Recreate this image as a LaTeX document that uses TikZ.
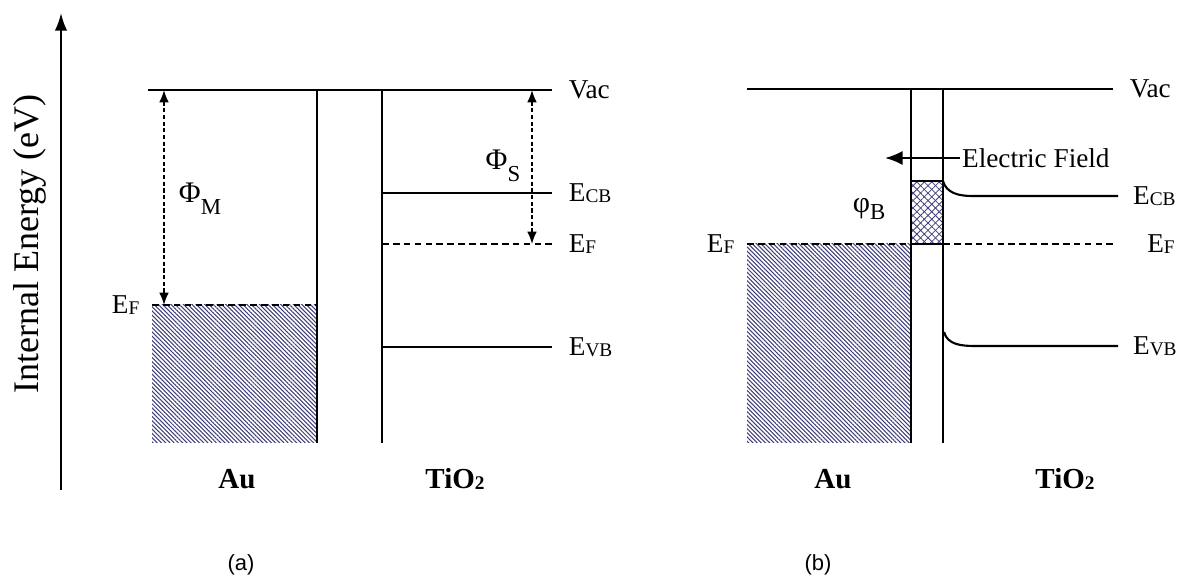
\documentclass[tikz,border=0pt]{standalone}
\usepackage{fontspec}
\setmainfont{Liberation Serif}
\newfontfamily\capfont{Liberation Sans}
\usetikzlibrary{arrows.meta,patterns.meta}
\definecolor{metal}{RGB}{62,62,120}
\newcommand\lowsub[1]{\raisebox{-0.6pt}{\fontsize{11}{10}\selectfont #1}}
\newcommand\dropsub[2][7pt]{\raisebox{-#1}{\fontsize{13}{13}\selectfont #2}}
\tikzset{
  band/.style={line width=1.2pt},
  wall/.style={line width=1pt},
  fermi/.style={line width=1.1pt, dash pattern=on 3.8pt off 2.4pt},
  gap/.style={line width=0.9pt, dash pattern=on 2.4pt off 1.4pt,
    {Latex[length=7pt,width=5.5pt]}-{Latex[length=7pt,width=5.5pt]}},
  metalfill/.style={pattern={Lines[angle=-45,distance=1.7pt,line width=0.6pt]}, pattern color=metal},
  barrierfill/.style={pattern={Lines[angle=45,distance=3pt,line width=0.45pt]}, pattern color=metal,
    postaction={pattern={Lines[angle=-45,distance=3pt,line width=0.45pt]}, pattern color=metal}},
  lbl/.style={font=\fontsize{15.5}{18}\selectfont, inner sep=0pt},
  lvl/.style={lbl, anchor=west, xshift=9pt},
  sym/.style={font=\fontsize{17}{18}\selectfont, inner sep=0pt},
  mat/.style={font=\fontsize{16.5}{18}\selectfont\bfseries, inner sep=0pt},
  panelcap/.style={font=\capfont\fontsize{12.5}{14}\selectfont, inner sep=0pt},
}
\begin{document}
\begin{tikzpicture}[x=0.02cm, y=-0.02cm]
  \useasboundingbox (0,0) rectangle (1180,577);

  % energy axis
  \coordinate (axbot) at (61,490);
  \coordinate (axtop) at (61,13);
  \draw[line width=1.2pt, -{Latex[length=10pt,width=7pt]}] (axbot) -- (axtop);
  \node[font=\fontsize{20.5}{24}\selectfont, rotate=90] (energy) at (30,244) {Internal Energy (eV)};

  % (a) separated
  \coordinate (vacA1) at (148,90);  \coordinate (vacA2) at (552,90);
  \coordinate (wlA1) at (317,90);   \coordinate (wlA2) at (317,443);
  \coordinate (wrA1) at (382,90);   \coordinate (wrA2) at (382,443);
  \coordinate (efM1) at (152,305);  \coordinate (efM2) at (317,305);
  \coordinate (efS1) at (382,244);  \coordinate (efS2) at (552,244);
  \coordinate (cbA1) at (382,193);  \coordinate (cbA2) at (552,193);
  \coordinate (vbA1) at (382,347);  \coordinate (vbA2) at (552,347);
  \coordinate (phiM1) at (164,90);  \coordinate (phiM2) at (164,305);
  \coordinate (phiS1) at (532,90);  \coordinate (phiS2) at (532,244);

  \fill[metalfill] (efM1) rectangle (wlA2);
  \draw[band] (vacA1) -- (vacA2) node[lvl] (vacA) {Vac};
  \draw[wall] (wlA1) -- (wlA2);
  \draw[wall] (wrA1) -- (wrA2);
  \draw[fermi] (efM1) -- (efM2);
  \node[lbl, anchor=east, xshift=-7pt] (efMl) at (efM1) {E\lowsub{F}};
  \draw[band] (cbA1) -- (cbA2) node[lvl] (cbA) {E\lowsub{CB}};
  \draw[fermi] (efS1) -- (efS2) node[lvl] (efA) {E\lowsub{F}};
  \draw[band] (vbA1) -- (vbA2) node[lvl] (vbA) {E\lowsub{VB}};
  \draw[gap] (phiM1) -- (phiM2);
  \draw[gap] (phiS1) -- (phiS2);
  \node[sym] (phiM) at (200,199) {Φ\dropsub{M}};
  \node[sym] (phiS) at (503,166) {Φ\dropsub{S}};
  \node[mat] (auA) at (237,479) {Au};
  \node[mat] (tiA) at (455,479) {TiO\lowsub{2}};
  \node[panelcap] (capA) at (241,565) {(a)};

  % (b) in contact
  \coordinate (vacB1) at (747,89);  \coordinate (vacB2) at (1113,89);
  \coordinate (wlB1) at (911,89);   \coordinate (wlB2) at (911,443);
  \coordinate (wrB1) at (943,89);   \coordinate (wrB2) at (943,443);
  \coordinate (efB1) at (747,244);  \coordinate (efB2) at (1113,244);
  \coordinate (barB) at (911,181);  \coordinate (barE) at (943,244);
  \coordinate (cbB1) at (943,181);  \coordinate (cbBk) at (972,196);  \coordinate (cbB2) at (1118,196);
  \coordinate (vbB1) at (944,332);  \coordinate (vbBk) at (976,346);  \coordinate (vbB2) at (1118,346);
  \coordinate (fld1) at (960,158);  \coordinate (fld2) at (885,158);

  \fill[metalfill] (efB1) rectangle (wlB2);
  \fill[barrierfill] (barB) rectangle (barE);
  \draw[band] (vacB1) -- (vacB2) node[lvl] (vacB) {Vac};
  \draw[wall] (wlB1) -- (wlB2);
  \draw[wall] (wrB1) -- (wrB2);
  \draw[band] (barB) -- (cbB1);
  \draw[band] (barB |- barE) -- (barE);
  \draw[fermi] (efB1) -- (efB2) node[lvl, xshift=10pt] (efB) {E\lowsub{F}};
  \node[lbl, anchor=east, xshift=-7pt] (efBl) at (efB1) {E\lowsub{F}};
  \draw[band] (cbB1) to[out=-75, in=180] (cbBk) -- (cbB2) node[lvl, xshift=-1pt] (cbB) {E\lowsub{CB}};
  \draw[band] (vbB1) to[out=-75, in=180] (vbBk) -- (vbB2) node[lvl, xshift=-1pt] (vbB) {E\lowsub{VB}};
  \draw[line width=1.2pt, -{Latex[length=10pt,width=8pt]}] (fld1) -- (fld2);
  \node[lbl, anchor=west] (field) at ([xshift=1pt]fld1) {Electric Field};
  \node[sym] (phiB) at (869,209) {φ\dropsub[4.5pt]{B}};
  \node[mat] (auB) at (833,479) {Au};
  \node[mat] (tiB) at (1065,479) {TiO\lowsub{2}};
  \node[panelcap] (capB) at (818,565) {(b)};
\end{tikzpicture}
\end{document}
